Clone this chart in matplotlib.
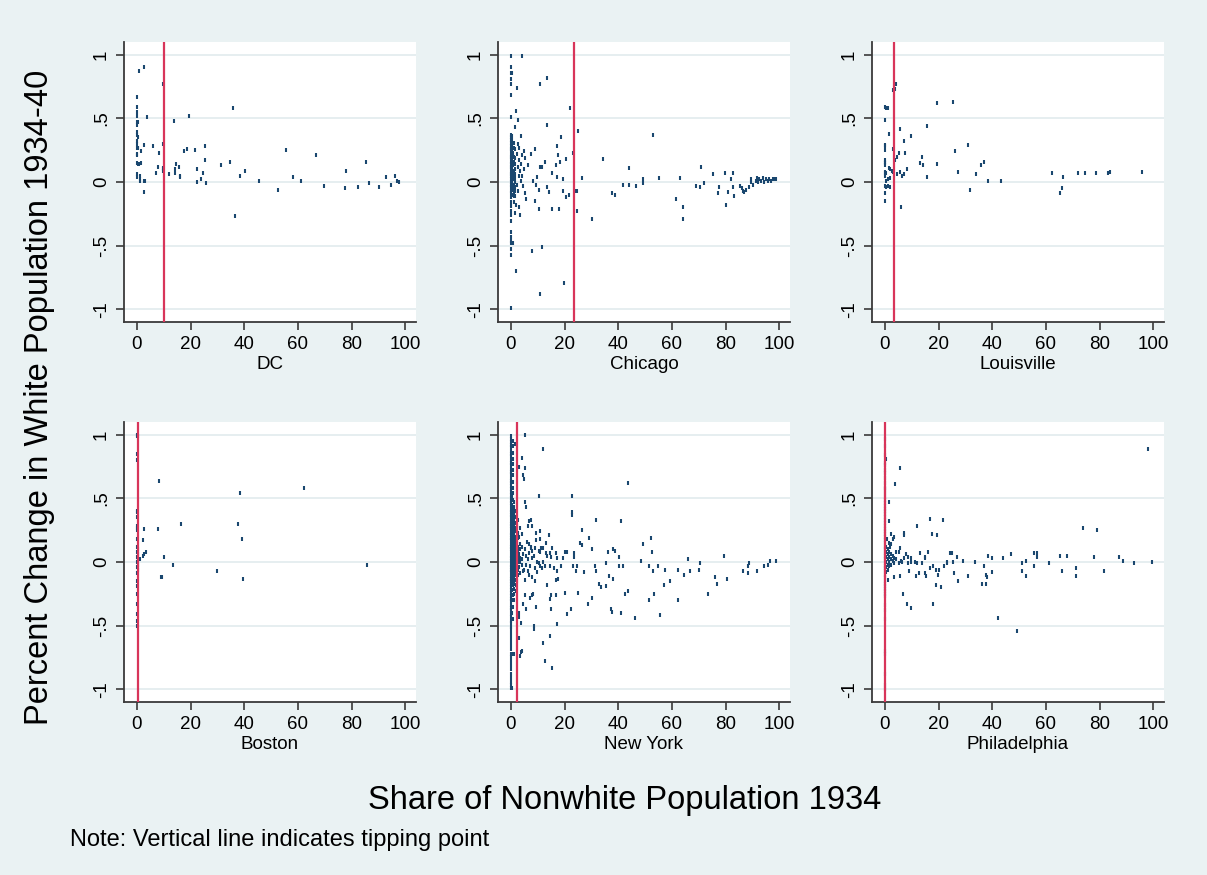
import numpy as np
import matplotlib
matplotlib.use("Agg")
import matplotlib.pyplot as plt

plt.rcParams['font.family'] = ['Liberation Sans', 'DejaVu Sans']

# colours (Stata s2color look)
BG = '#EAF2F3'
NAVY = '#1A476F'
RED = '#D8355A'
AXC = '#3A3A3A'

cities = ["DC", "Chicago", "Louisville", "Boston", "New York", "Philadelphia"]
tipping = [10.1, 23.4, 3.4, 0.4, 2.2, 0.2]

xticks = [0, 20, 40, 60, 80, 100]
yticks = [-1, -0.5, 0, 0.5, 1]
ytick_labels = ["-1", "-.5", "0", ".5", "1"]

# ---------------------------------------------------------------- DC
dc_x = [0.9, 2.7, 9.7, 0.0, 0.0, 0.0, 0.0, 3.7, 0.2, 0.6,
        0.0, 0.0, 0.0, 0.3, 0.0, 0.0, 0.0, 0.3, 0.6, 0.0,
        0.0, 1.5, 2.7, 6.0, 8.2, 9.7, 0.0, 0.3, 0.9, 1.5,
        0.0, 0.2, 1.0, 1.0, 1.0, 2.7, 3.2, 2.7, 7.3, 7.8,
        9.7, 9.7, 9.7, 11.9, 13.8, 14.3, 14.2, 14.7, 15.7, 15.9,
        16.2, 17.5, 18.8, 19.3, 21.6, 22.4, 22.5, 24.0, 24.7, 25.2,
        25.2, 25.7, 31.2, 34.8, 35.8, 36.6, 38.5, 40.2, 45.5, 52.7,
        55.5, 58.1, 61.0, 66.8, 69.7, 77.6, 77.9, 82.5, 85.2, 86.6,
        90.2, 93.0, 94.8, 96.1, 96.9, 97.5]
dc_y = [0.87, 0.90, 0.77, 0.67, 0.59, 0.55, 0.52, 0.51, 0.47, 0.47,
        0.45, 0.39, 0.37, 0.35, 0.32, 0.30, 0.27, 0.27, 0.27, 0.22,
        0.21, 0.24, 0.29, 0.28, 0.23, 0.30, 0.15, 0.14, 0.14, 0.15,
        0.06, 0.04, 0.05, 0.02, 0.01, 0.01, 0.01, -0.08, 0.07, 0.12,
        0.11, 0.10, 0.09, 0.06, 0.48, 0.10, 0.07, 0.14, 0.12, 0.04,
        0.05, 0.24, 0.26, 0.52, 0.25, 0.10, 0.00, 0.02, 0.07, 0.28,
        0.17, -0.01, 0.13, 0.16, 0.58, -0.27, 0.05, 0.09, 0.01, -0.06,
        0.25, 0.04, 0.01, 0.21, -0.03, -0.05, 0.09, -0.04, 0.16, -0.01,
        -0.04, 0.04, -0.02, 0.05, 0.01, 0.00]

# ---------------------------------------------------------------- Chicago
chi_x = [0.0, 0.0, 0.0, 0.3, 0.0, 0.0, 0.0, 4.1, 2.3, 11.0,
         13.3, 0.1, 1.9, 2.8, 1.5, 3.7, 13.3, 18.8, 22.1, 25.1,
         23.0, 17.0, 17.4, 20.6, 18.4, 16.9, 12.8, 11.0, 11.6, 8.8,
         7.4, 5.3, 6.2, 15.2, 17.0, 9.8, 8.4, 9.5, 10.6, 13.3,
         14.2, 19.6, 19.6, 21.5, 20.7, 23.8, 24.7, 26.5, 24.7, 30.4,
         34.3, 37.5, 38.9, 41.9, 44.1, 44.0, 46.5, 49.3, 49.3, 53.0,
         55.2, 61.7, 63.0, 64.0, 64.0, 69.0, 70.3, 70.7, 72.0, 75.3,
         77.0, 77.5, 79.8, 80.2, 81.0, 82.6, 82.0, 82.6, 83.0, 85.2,
         86.0, 86.5, 87.0, 87.5, 88.6, 89.4, 89.6, 90.1, 91.2, 91.6,
         92.1, 92.3, 93.2, 93.8, 94.4, 95.1, 95.7, 96.3, 96.9, 97.5,
         98.1, 98.8, 0.0, 0.0, 0.0, 0.0, 0.0, 0.0, 0.0, 0.0,
         0.0, 0.0, 0.0, 0.9, 0.0, 2.0, 7.8, 11.5, 11.0, 19.8,
         1.2, 1.9, 3.1, 3.5, 1.5, 5.3, 5.7, 8.8, 10.6, 15.2,
         17.9]
chi_y = [0.99, 0.90, 0.86, 0.86, 0.81, 0.77, 0.68, 0.99, 0.74, 0.77,
         0.82, 0.51, 0.56, 0.49, 0.43, 0.36, 0.45, 0.35, 0.58, 0.40,
         0.23, 0.28, 0.21, 0.18, 0.16, 0.13, 0.16, 0.12, 0.12, 0.26,
         0.22, 0.19, 0.13, 0.07, 0.04, 0.04, 0.01, -0.02, -0.06, -0.04,
         -0.08, 0.02, -0.07, -0.10, -0.12, -0.07, -0.07, 0.03, -0.23, -0.29,
         0.18, -0.09, -0.10, -0.02, -0.02, 0.11, -0.03, 0.02, -0.01, 0.37,
         0.03, -0.13, 0.03, -0.20, -0.29, -0.03, -0.04, 0.12, -0.01, 0.06,
         -0.09, -0.04, 0.07, -0.18, -0.08, 0.07, 0.02, -0.04, -0.11, -0.03,
         -0.05, -0.07, -0.08, -0.06, -0.04, 0.00, 0.02, -0.02, 0.01, 0.03,
         0.00, 0.02, 0.01, 0.03, 0.00, 0.02, 0.01, 0.02, 0.01, 0.02,
         0.02, 0.02, -0.16, -0.19, -0.23, -0.26, -0.31, -0.43, -0.46, -0.48,
         -0.53, -0.57, -0.99, -0.48, -0.39, -0.70, -0.54, -0.51, -0.88, -0.79,
         -0.16, -0.18, -0.20, -0.26, -0.24, -0.09, -0.13, -0.15, -0.21, -0.21,
         -0.21]
# dense cluster of tracts with almost no nonwhite residents
chi_core_x = [0.0, 0.0, 0.0, 0.0, 0.0, 0.0, 0.0, 0.0, 0.0, 0.0,
              0.0, 0.0, 0.0, 0.0, 0.0, 0.0, 0.0, 0.0, 0.0, 0.0,
              0.0, 0.0, 0.0, 0.0,
              0.5, 0.4, 0.5, 0.6, 0.5, 0.4, 0.5, 0.6, 0.5, 0.4,
              0.5, 0.6, 0.5, 0.4, 0.5, 0.6, 0.5, 0.4, 0.5, 0.6,
              1.0, 1.1, 0.9, 1.0, 1.1, 0.9, 1.0, 1.1, 0.9, 1.0,
              1.1, 0.9, 1.0, 1.1,
              1.6, 1.5, 1.7, 1.6, 1.5, 1.7, 1.6, 1.5, 1.7, 1.6,
              2.3, 2.6, 2.9, 2.2, 3.0, 3.4, 2.7, 3.6, 3.9, 4.3,
              4.6, 3.2, 4.0, 2.5, 5.0, 4.8]
chi_core_y = [0.37, 0.35, 0.33, 0.31, 0.28, 0.26, 0.25, 0.22, 0.20, 0.19,
              0.16, 0.14, 0.12, 0.11, 0.08, 0.06, 0.05, 0.02, 0.00, -0.02,
              -0.04, -0.07, -0.09, -0.12,
              0.36, 0.33, 0.30, 0.29, 0.27, 0.24, 0.21, 0.18, 0.17, 0.15,
              0.13, 0.10, 0.07, 0.04, 0.03, 0.01, -0.01, -0.03, -0.06, -0.10,
              0.31, 0.27, 0.23, 0.20, 0.16, 0.13, 0.09, 0.07, 0.04, 0.02,
              -0.02, -0.05, -0.08, -0.11,
              0.26, 0.19, 0.14, 0.10, 0.06, 0.03, 0.00, -0.04, -0.07, -0.11,
              0.22, 0.12, 0.05, -0.02, 0.17, 0.09, -0.07, 0.01, 0.14, 0.05,
              -0.03, 0.27, 0.21, 0.30, 0.10, 0.24]

# ---------------------------------------------------------------- Louisville
lou_x = [3.0, 3.6, 4.2, 0.0, 0.5, 1.0, 0.0, 19.4, 25.3, 15.8,
         5.6, 9.6, 1.5, 7.0, 0.0, 0.0, 0.0, 3.0, 5.1, 7.5,
         4.6, 13.8, 26.3, 30.8, 3.6, 0.0, 0.2, 0.0, 0.2, 12.9,
         14.3, 19.4, 8.3, 1.5, 2.0, 2.5, 3.0, 0.0, 0.0, 0.2,
         0.5, 5.6, 6.2, 7.0, 4.7, 15.8, 27.1, 33.9, 35.8, 37.1,
         38.6, 43.1, 31.6, 2.0, 1.0, 0.5, 0.0, 0.5, 1.0, 2.0,
         0.0, 0.0, 6.0, 62.4, 66.5, 65.2, 66.1, 71.9, 74.4, 78.5,
         83.0, 84.0, 95.9]
lou_y = [0.72, 0.73, 0.77, 0.59, 0.58, 0.58, 0.49, 0.62, 0.63, 0.44,
         0.42, 0.36, 0.38, 0.32, 0.29, 0.28, 0.25, 0.26, 0.23, 0.23,
         0.20, 0.20, 0.24, 0.29, 0.17, 0.17, 0.16, 0.15, 0.13, 0.15,
         0.13, 0.14, 0.10, 0.11, 0.10, 0.09, 0.08, 0.08, 0.07, 0.05,
         0.07, 0.08, 0.05, 0.06, 0.06, 0.04, 0.08, 0.06, 0.13, 0.16,
         0.01, 0.01, -0.06, 0.03, 0.02, 0.01, -0.03, -0.04, -0.03, -0.04,
         -0.09, -0.15, -0.20, 0.07, 0.04, -0.09, -0.05, 0.07, 0.07, 0.07,
         0.07, 0.08, 0.08]

# ---------------------------------------------------------------- Boston
bos_x = [0.0, 0.0, 0.4, 0.0, 0.0, 8.3, 38.5, 62.4, 0.0, 0.0,
         0.0, 0.0, 0.0, 0.0, 2.7, 7.8, 16.5, 37.6, 2.2, 0.0,
         39.0, 3.4, 2.2, 2.6, 1.1, 0.6, 0.0, 0.3, 0.0, 0.3,
         0.0, 0.3, 0.0, 0.3, 0.0, 0.3, 0.0, 10.2, 13.3, 8.9,
         9.2, 29.8, 39.5, 85.7, 0.0, 0.0, 0.0, 0.0, 0.0, 0.0,
         0.0]
bos_y = [1.00, 0.99, 0.99, 0.85, 0.80, 0.64, 0.54, 0.58, 0.40, 0.39,
         0.35, 0.28, 0.27, 0.25, 0.26, 0.26, 0.30, 0.30, 0.17, 0.18,
         0.18, 0.08, 0.05, 0.06, 0.02, 0.02, 0.12, 0.10, 0.08, 0.06,
         0.04, 0.02, 0.00, -0.02, -0.04, -0.06, -0.09, 0.04, -0.02, -0.12,
         -0.12, -0.07, -0.13, -0.02, -0.15, -0.19, -0.25, -0.33, -0.41, -0.46,
         -0.50]

# ---------------------------------------------------------------- New York
ny_x = [5.3, 11.8, 1.7, 4.1, 5.3, 3.0, 4.5, 4.8, 43.8, 10.4,
        22.6, 22.6, 22.6, 5.2, 5.8, 31.9, 41.0, 26.4, 29.1, 25.7,
        26.6, 30.4, 36.0, 38.2, 38.9, 40.1, 49.1, 52.2, 52.4, 48.4,
        66.1, 70.5, 79.5, 88.9, 88.2, 86.4, 88.5, 91.7, 94.4, 95.7,
        96.7, 98.8, 76.1, 76.7, 73.4, 80.7, 70.2, 66.6, 64.4, 62.1,
        59.2, 56.9, 55.6, 62.4, 51.5, 53.2, 52.8, 54.7, 57.4, 51.4,
        46.4, 42.7, 43.8, 41.0, 37.7, 37.3, 40.2, 41.8, 38.2, 36.4,
        35.5, 35.6, 33.7, 32.8, 31.4, 31.8, 30.1, 28.7, 27.4, 24.8,
        24.1, 23.1, 25.0, 22.3, 20.8, 20.0, 17.2, 23.6, 23.6, 21.0,
        20.2, 19.6, 17.2, 15.0, 18.7, 17.1, 16.2, 14.5, 16.7, 17.7,
        13.5, 15.0, 14.4, 16.8, 14.9, 14.6, 12.6, 15.3, 11.8, 8.7,
        8.7, 9.4, 7.7, 8.2, 7.1, 3.6, 4.0, 3.6, 3.5, 3.0,
        1.1, 0.9, 0.4, 14.1, 10.8, 13.1, 11.0, 9.3, 6.7, 7.5,
        8.0, 6.2, 6.8, 9.3, 8.8, 10.3, 10.9, 7.4, 8.0, 9.7,
        10.3, 10.9, 11.9, 12.7, 9.0, 11.5, 9.9, 7.9, 6.6, 8.8,
        5.3, 5.3, 4.5, 5.7, 3.1, 3.2, 16.8, 13.1, 13.6, 14.4,
        15.3, 11.1, 12.1]
ny_y = [1.00, 0.89, 0.93, 0.82, 0.74, 0.75, 0.68, 0.65, 0.62, 0.52,
        0.52, 0.39, 0.37, 0.47, 0.43, 0.33, 0.32, 0.25, 0.19, 0.15,
        0.13, 0.10, 0.08, 0.10, 0.09, 0.04, 0.14, 0.19, 0.08, 0.01,
        0.02, -0.01, 0.05, -0.01, -0.03, -0.07, -0.09, -0.07, -0.03, -0.02,
        0.01, 0.01, -0.12, -0.17, -0.25, -0.13, -0.06, -0.07, -0.10, -0.06,
        -0.15, -0.18, -0.42, -0.30, -0.30, -0.25, -0.07, -0.03, -0.06, -0.03,
        -0.44, -0.25, -0.23, -0.40, -0.39, -0.37, -0.03, -0.03, -0.13, -0.11,
        -0.19, -0.01, -0.20, -0.17, -0.03, -0.07, -0.28, -0.33, -0.08, -0.03,
        -0.07, -0.03, -0.24, -0.37, -0.41, -0.24, -0.49, 0.07, 0.04, 0.08,
        0.08, 0.03, 0.03, 0.04, -0.03, -0.07, -0.05, -0.03, -0.14, -0.13,
        -0.18, -0.26, -0.29, -0.26, -0.37, -0.58, -0.78, -0.83, -0.64, -0.50,
        -0.53, -0.35, -0.26, -0.25, -0.28, -0.48, -0.70, -0.71, -0.74, -0.60,
        -0.72, -0.72, -0.99, 0.21, 0.24, 0.15, 0.18, 0.23, 0.32, 0.33,
        0.28, 0.28, 0.14, 0.17, 0.11, 0.09, 0.08, 0.11, 0.09, 0.00,
        -0.01, -0.03, 0.00, -0.03, -0.05, -0.05, -0.08, -0.12, -0.10, -0.15,
        -0.14, -0.26, -0.33, -0.37, -0.40, -0.43, 0.07, 0.07, 0.05, 0.07,
        0.11, 0.11, 0.11]
# tracts at (nearly) zero nonwhite share: a solid column in the picture
ny_col_x = [0.0, 0.1, 0.0, 0.1, 0.0, 0.1, 0.0, 0.1, 0.0, 0.1,
            0.0, 0.1, 0.0, 0.1, 0.0, 0.1, 0.0, 0.1, 0.0, 0.1,
            0.0, 0.1, 0.0, 0.1, 0.0, 0.1, 0.0, 0.1, 0.0, 0.1,
            0.0, 0.1, 0.0, 0.1, 0.0, 0.1, 0.0, 0.1, 0.0, 0.1,
            0.0, 0.1, 0.0, 0.1, 0.0, 0.1, 0.0, 0.1, 0.0, 0.1,
            0.0, 0.1, 0.0, 0.1, 0.0, 0.1, 0.0, 0.1, 0.0, 0.1,
            0.0, 0.1, 0.0, 0.1, 0.0, 0.1, 0.0, 0.1, 0.0, 0.1,
            0.0, 0.1, 0.0, 0.1, 0.0, 0.1, 0.0, 0.1, 0.0, 0.1,
            0.0, 0.1,
            0.8, 0.9, 0.7, 0.8, 0.9, 0.7, 0.8, 0.9, 0.7, 0.8]
ny_col_y = [0.99, 0.97, 0.94, 0.92, 0.90, 0.87, 0.85, 0.83, 0.80, 0.78,
            0.76, 0.73, 0.71, 0.69, 0.66, 0.64, 0.62, 0.60, 0.57, 0.55,
            0.53, 0.50, 0.48, 0.46, 0.44, 0.41, 0.39, 0.37, 0.35, 0.32,
            0.30, 0.28, 0.26, 0.23, 0.21, 0.19, 0.17, 0.14, 0.12, 0.10,
            0.08, 0.05, 0.03, 0.01, -0.02, -0.04, -0.06, -0.08, -0.11, -0.13,
            -0.15, -0.17, -0.20, -0.22, -0.24, -0.27, -0.29, -0.31, -0.34, -0.36,
            -0.38, -0.41, -0.43, -0.46, -0.48, -0.51, -0.53, -0.56, -0.59, -0.62,
            -0.65, -0.68, -0.72, -0.75, -0.78, -0.81, -0.84, -0.88, -0.91, -0.94,
            -0.97, -0.99,
            0.95, 0.91, 0.86, 0.81, 0.77, 0.72, 0.68, 0.63, 0.58, 0.54]
ny_core_x = [0.5, 0.7, 0.5, 0.7, 0.5, 0.7, 0.5, 0.7, 0.5, 0.7,
             0.5, 0.7, 0.5, 0.7, 0.5, 0.7, 0.5, 0.7, 0.5, 0.7,
             0.5, 0.7, 0.5, 0.7, 0.5, 0.7, 0.5, 0.7, 0.5, 0.7,
             1.1, 1.3, 1.2, 1.1, 1.3, 1.2, 1.1, 1.3, 1.2, 1.1,
             1.3, 1.2, 1.1, 1.3, 1.2, 1.1, 1.3, 1.2, 1.1, 1.3,
             1.2, 1.1, 1.3, 1.2, 1.1,
             1.8, 1.7, 1.9, 1.8, 1.7, 1.9, 1.8, 1.7, 1.9, 1.8,
             1.7, 1.9, 1.8, 1.7, 1.9, 1.8, 1.7, 1.9, 1.8,
             2.5, 2.4, 2.6, 2.5, 2.4, 2.6, 2.5, 2.4, 2.6, 2.5,
             2.4, 2.6, 2.5, 2.4,
             3.3, 3.2, 3.4, 3.3, 3.2, 3.4, 3.3, 3.2, 3.4,
             4.3, 4.2, 4.4, 4.3, 4.2, 4.4,
             5.2, 5.8, 6.3, 5.5, 6.8, 7.2, 6.0, 5.0, 7.8, 8.5,
             6.5, 7.5]
ny_core_y = [0.52, 0.49, 0.45, 0.42, 0.39, 0.36, 0.33, 0.30, 0.27, 0.24,
             0.21, 0.18, 0.15, 0.12, 0.09, 0.06, 0.03, 0.00, -0.03, -0.06,
             -0.09, -0.12, -0.15, -0.18, -0.22, -0.26, -0.30, -0.35, -0.40, -0.45,
             0.47, 0.43, 0.40, 0.37, 0.34, 0.31, 0.28, 0.25, 0.22, 0.19,
             0.16, 0.13, 0.10, 0.07, 0.04, 0.01, -0.02, -0.05, -0.08, -0.11,
             -0.14, -0.17, -0.21, -0.25, -0.30,
             0.40, 0.35, 0.31, 0.27, 0.24, 0.20, 0.17, 0.14, 0.11, 0.08,
             0.05, 0.02, -0.01, -0.04, -0.07, -0.10, -0.14, -0.18, -0.23,
             0.33, 0.28, 0.23, 0.19, 0.15, 0.12, 0.09, 0.06, 0.03, 0.00,
             -0.03, -0.06, -0.10, -0.15,
             0.27, 0.20, 0.14, 0.10, 0.06, 0.03, 0.00, -0.04, -0.09,
             0.22, 0.12, 0.06, 0.02, -0.02, -0.07,
             0.10, 0.05, 0.02, -0.02, 0.07, -0.03, 0.16, -0.06, 0.03, 0.05,
             -0.07, 0.12]

# ---------------------------------------------------------------- Philadelphia
phi_x = [0.4, 5.5, 3.6, 1.4, 98.1, 1.4, 11.9, 16.9, 21.5, 17.4,
         19.3, 7.3, 7.3, 2.2, 3.5, 3.1, 2.2, 5.8, 4.2, 5.2,
         13.1, 15.9, 14.8, 15.0, 7.8, 8.6, 9.6, 7.1, 6.1, 8.7,
         9.7, 11.1, 12.1, 13.7, 6.5, 5.2, 8.8, 11.6, 12.7, 15.4,
         15.0, 3.5, 5.5, 1.0, 6.8, 8.3, 9.6, 17.8, 16.9, 18.0,
         18.9, 20.1, 19.7, 18.9, 21.0, 22.0, 23.0, 23.3, 24.3, 25.1,
         25.5, 25.6, 27.0, 27.4, 29.0, 31.1, 33.5, 37.1, 37.6, 37.9,
         36.3, 37.6, 38.6, 39.9, 39.9, 42.3, 44.0, 46.9, 49.4, 51.0,
         51.0, 52.4, 52.7, 55.5, 55.5, 56.5, 56.5, 61.1, 65.2, 66.0,
         67.9, 71.1, 71.1, 73.9, 78.0, 78.9, 81.7, 87.2, 88.7, 93.0,
         99.5]
phi_y = [0.81, 0.74, 0.61, 0.47, 0.89, 0.32, 0.28, 0.34, 0.33, 0.22,
         0.21, 0.23, 0.21, 0.22, 0.20, 0.18, 0.14, 0.11, 0.08, 0.08,
         0.07, 0.08, 0.04, 0.03, 0.06, 0.04, 0.03, 0.03, 0.01, -0.01,
         0.00, 0.00, -0.01, -0.01, 0.00, -0.01, -0.07, -0.11, -0.09, -0.11,
         -0.09, -0.12, -0.11, -0.14, -0.25, -0.33, -0.36, -0.33, -0.05, -0.03,
         -0.06, -0.06, -0.10, -0.18, -0.20, -0.03, 0.00, -0.01, 0.07, 0.07,
         0.00, -0.09, 0.04, -0.15, 0.01, -0.11, 0.00, -0.03, -0.10, -0.12,
         -0.17, -0.17, 0.05, 0.03, -0.08, -0.44, 0.03, 0.06, -0.54, -0.01,
         -0.07, 0.01, -0.11, 0.07, -0.03, 0.07, 0.04, -0.01, 0.05, -0.07,
         0.05, -0.05, -0.11, 0.27, 0.04, 0.25, -0.07, 0.04, 0.01, -0.01,
         0.00]
phi_core_x = [0.0, 0.0, 0.0, 0.0, 0.0, 0.0, 0.0, 0.0, 0.0, 0.0,
              0.0, 0.0, 0.0, 0.0, 0.0, 0.0, 0.0, 0.0, 0.0, 0.0,
              0.0, 0.0, 0.0, 0.0, 0.0, 0.0, 0.0, 0.0, 0.0, 0.0,
              0.0, 0.0, 0.0, 0.0, 0.0,
              0.2, 0.2, 0.2, 0.2, 0.2, 0.2, 0.2, 0.2, 0.2, 0.2,
              0.2, 0.2, 0.2, 0.2, 0.2, 0.2, 0.2, 0.2, 0.2, 0.2,
              0.6, 0.6, 0.6, 0.6, 0.6, 0.6, 1.1, 1.1, 1.1, 1.1,
              1.1, 1.7, 1.7, 1.7, 1.7, 2.3, 2.3, 2.3, 2.9, 2.9,
              3.5, 3.5, 4.2, 1.4, 0.9, 2.0]
phi_core_y = [0.97, 0.91, 0.84, 0.78, 0.76, 0.72, 0.70, 0.66, 0.62, 0.58,
              0.57, 0.51, 0.46, 0.42, 0.38, 0.33, 0.28, 0.22, 0.17, 0.12,
              0.07, -0.01, -0.07, -0.12, -0.17, -0.21, -0.25, -0.34, -0.38, -0.45,
              -0.70, -0.72, -0.88, -0.97, -1.00,
              0.54, 0.49, 0.44, 0.40, 0.35, 0.31, 0.26, 0.24, 0.20, 0.15,
              0.10, 0.05, 0.02, -0.03, -0.05, -0.10, -0.15, -0.19, -0.23, -0.27,
              0.12, 0.08, 0.04, 0.00, -0.04, -0.08, 0.10, 0.06, 0.02, -0.02,
              -0.06, 0.08, 0.04, 0.00, -0.03, 0.06, 0.02, -0.02, 0.05, 0.01,
              0.03, -0.01, 0.02, 0.15, 0.18, 0.12]

panel_x = [dc_x, chi_x + chi_core_x, lou_x, bos_x,
           ny_x + ny_col_x + ny_core_x, phi_x + phi_core_x]
panel_y = [dc_y, chi_y + chi_core_y, lou_y, bos_y,
           ny_y + ny_col_y + ny_core_y, phi_y + phi_core_y]

# ---------------------------------------------------------------- figure
W, H = 1207, 875
fig = plt.figure(figsize=(W / 100, H / 100), dpi=100, facecolor=BG)

lefts = [124, 498, 872]
tops = [42, 422]
pw, ph = 292, 280

for i, name in enumerate(cities):
    r, c = divmod(i, 3)
    ax = fig.add_axes([lefts[c] / W, 1 - (tops[r] + ph) / H, pw / W, ph / H])
    ax.set_facecolor('white')

    # tiny upright dashes, like Stata's "point" marker
    ax.plot(panel_x[i], panel_y[i], ls='none', marker='|', ms=2.4, mew=1.5,
            color=NAVY, zorder=3)
    ax.axvline(tipping[i], color=RED, lw=1.6, zorder=4)

    ax.set_xlim(-4.8, 104)
    ax.set_ylim(-1.1, 1.1)
    ax.set_xticks(xticks)
    ax.set_yticks(yticks)
    ax.set_yticklabels(ytick_labels, rotation=90, va='center')
    ax.yaxis.grid(True, color='#E4EDEF', lw=1.3)
    ax.set_axisbelow(True)

    for s in ['top', 'right']:
        ax.spines[s].set_visible(False)
    for s in ['left', 'bottom']:
        ax.spines[s].set_color(AXC)
        ax.spines[s].set_linewidth(1.3)
    ax.tick_params(length=6, width=1.2, color=AXC, labelsize=13.5, pad=4)
    ax.set_xlabel(name, fontsize=13.5, labelpad=2)

fig.text(40 / W, 1 - 397 / H, "Percent Change in White Population 1934-40",
         rotation=90, ha='center', va='center', fontsize=23.5)
fig.text(625 / W, 1 - 800 / H, "Share of Nonwhite Population 1934",
         ha='center', va='center', fontsize=23.5)
fig.text(70 / W, 1 - 840 / H, "Note: Vertical line indicates tipping point",
         ha='left', va='center', fontsize=17)

fig.savefig("out.png", dpi=100, facecolor=BG)
